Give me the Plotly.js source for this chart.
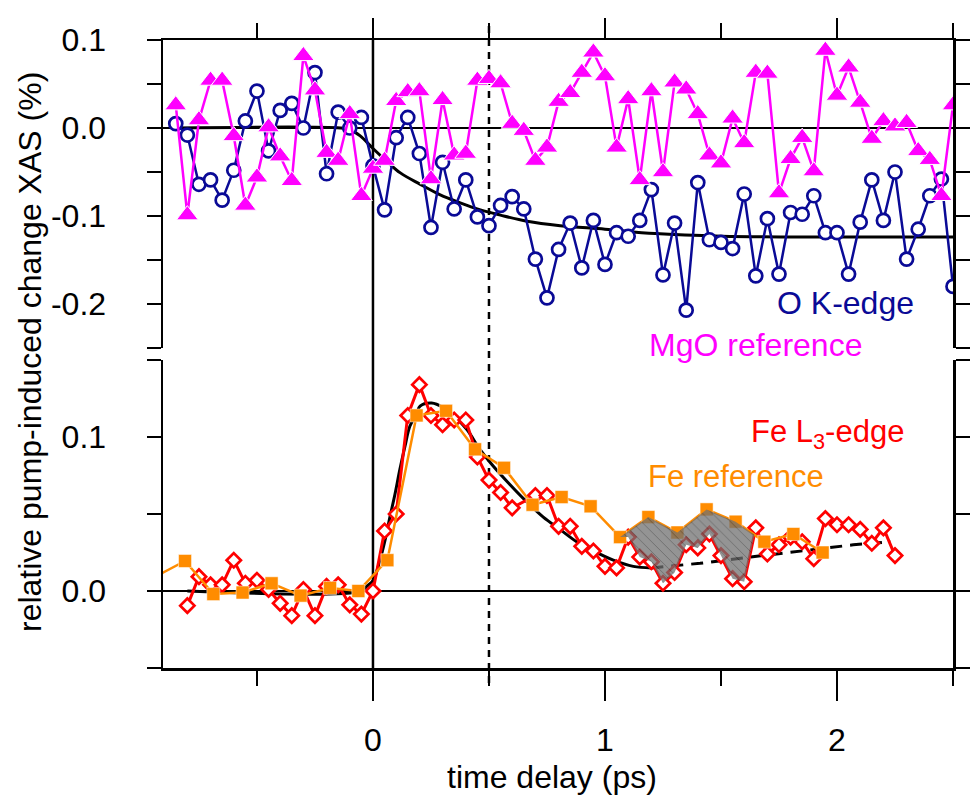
<!DOCTYPE html>
<html><head><meta charset="utf-8">
<script src="https://cdn.plot.ly/plotly-3.0.1.min.js"></script>
<style>html,body{margin:0;padding:0;background:#fff}</style>
</head><body>
<div id="chart" style="width:976px;height:796px"></div>
<script>
// ---------- data (top panel) ----------
const oKTime = [-0.85,-0.80,-0.75,-0.70,-0.65,-0.60,-0.55,-0.50,-0.45,-0.40,-0.35,-0.30,-0.25,-0.20,-0.15,-0.10,-0.05,0.00,
  0.05,0.10,0.15,0.20,0.25,0.30,0.35,0.40,0.45,0.50,0.55,0.60,0.65,0.70,0.75,0.80,0.85,0.90,0.95,1.00,
  1.05,1.10,1.15,1.20,1.25,1.30,1.35,1.40,1.45,1.50,1.55,1.60,1.65,1.70,1.75,1.80,1.85,1.90,1.95,2.00,
  2.05,2.10,2.15,2.20,2.25,2.30,2.35,2.40,2.45,2.50];
const oKEdge = [0.005,-0.008,-0.064,-0.059,-0.082,-0.048,0.008,0.042,-0.026,0.020,0.028,0.000,0.063,-0.052,0.018,0.000,0.012,-0.043,
  -0.093,-0.011,0.012,-0.029,-0.113,-0.039,-0.092,-0.059,-0.101,-0.111,-0.088,-0.078,-0.092,-0.149,-0.193,-0.138,-0.108,-0.159,-0.105,-0.155,
  -0.119,-0.123,-0.105,-0.070,-0.167,-0.108,-0.207,-0.062,-0.127,-0.130,-0.137,-0.075,-0.168,-0.103,-0.166,-0.096,-0.098,-0.077,-0.119,-0.119,
  -0.166,-0.107,-0.059,-0.105,-0.050,-0.149,-0.115,-0.077,-0.058,-0.180];
const mgoRef = [0.026,-0.099,0.009,0.054,0.054,-0.009,-0.088,-0.056,0.001,-0.032,-0.060,0.082,0.043,-0.028,-0.037,0.016,-0.077,-0.046,
  -0.037,0.031,0.041,0.042,-0.058,0.032,-0.031,-0.029,0.054,0.056,0.051,0.005,-0.003,-0.037,-0.022,0.030,0.040,0.063,0.086,0.059,
  -0.022,0.033,-0.059,0.042,-0.050,0.052,0.044,0.016,-0.031,-0.040,0.011,-0.017,0.063,0.062,-0.074,-0.035,-0.011,-0.049,0.088,0.037,
  0.069,0.029,-0.012,0.008,0.002,0.006,-0.026,-0.036,-0.077,0.026];
const fitTopTime  = [-0.85,-0.14,-0.098,-0.055,-0.001,0.060,0.118,0.204,0.290,0.376,0.463,0.549,0.664,0.807,1.00,1.216,1.503,1.934,2.50];
const fitTopValue = [0.000,0.000,-0.002,-0.009,-0.023,-0.038,-0.051,-0.064,-0.076,-0.085,-0.093,-0.099,-0.106,-0.111,-0.115,-0.120,-0.123,-0.124,-0.124];

// ---------- data (bottom panel) ----------
const feTime = [-0.80,-0.75,-0.70,-0.65,-0.60,-0.55,-0.50,-0.45,-0.40,-0.35,-0.30,-0.25,-0.20,-0.15,-0.10,-0.05,0.00,
  0.05,0.10,0.15,0.20,0.25,0.30,0.35,0.40,0.45,0.50,0.55,0.60,0.70,0.75,0.80,0.85,0.90,0.95,1.00,
  1.05,1.10,1.15,1.20,1.25,1.30,1.35,1.40,1.45,1.50,1.55,1.60,1.65,1.70,1.75,1.80,1.85,1.90,1.95,2.00,
  2.05,2.10,2.15,2.20,2.25];
const feL3Edge = [-0.0095,0.0093,0.004,0.004,0.020,0.005,0.007,0.001,-0.008,-0.016,0.001,-0.016,0.003,0.004,-0.009,-0.015,0.000,
  0.039,0.050,0.114,0.134,0.114,0.108,0.111,0.111,0.087,0.072,0.064,0.054,0.062,0.062,0.042,0.042,0.029,0.026,0.016,
  0.015,0.035,0.022,0.019,0.005,0.012,0.030,0.028,0.037,0.023,0.008,0.006,0.041,0.024,0.030,0.035,0.032,0.021,0.047,0.043,
  0.043,0.040,0.031,0.041,0.023];
const feRefTime = [-0.935,-0.81,-0.688,-0.562,-0.437,-0.312,-0.185,-0.063,0.062,0.188,0.315,0.440,0.565,0.688,0.813,0.938,
  1.065,1.187,1.312,1.438,1.563,1.687,1.812,1.938];
const feRef = [0.0096,0.0195,-0.002,-0.001,0.005,-0.003,0.002,0.000,0.020,0.114,0.117,0.092,0.080,0.056,0.061,0.055,
  0.035,0.048,0.038,0.053,0.045,0.032,0.037,0.025];
const fitBotTime  = [-0.80,-0.05,-0.027,0.001,0.030,0.052,0.073,0.095,0.116,0.138,0.159,0.188,0.203,0.253,0.303,0.353,0.404,
  0.461,0.519,0.591,0.662,0.734,0.806,0.878,0.950,1.036,1.122,1.20];
const fitBotValue = [0.000,0.000,0.003,0.007,0.020,0.033,0.048,0.063,0.079,0.094,0.107,0.115,0.120,0.122,0.119,0.113,0.105,
  0.092,0.081,0.069,0.058,0.048,0.040,0.032,0.026,0.020,0.016,0.015];
const fitDashTime  = [1.20,1.41,1.625,1.84,2.07,2.23];
const fitDashValue = [0.015,0.018,0.022,0.026,0.030,0.032];
const shadeRange = [1.06, 1.61];

// ---------- ticks / labels ----------
const xTickVals = [0, 1, 2];
const xTickText = ['0', '1', '2'];
const topTickVals = [-0.2, -0.1, 0.0, 0.1];
const topTickText = ['-0.2', '-0.1', '0.0', '0.1'];
const botTickVals = [0.0, 0.1];
const botTickText = ['0.0', '0.1'];

// ---------- styling ----------
const NAVY = '#0a0a96', MAG = '#ff00ff', RED = '#ff0000', ORG = '#ff8c00';
const FONT = 'Liberation Sans, Arial, sans-serif';
const FS = 32;
const W = 976, H = 796, ML = 163, MR = 23, MT = 40, MB = 128;
const PW = W - ML - MR, PH = H - MT - MB;
const px2x = p => (p - ML) / PW;
const py2y = p => (H - MB - p) / PH;

// shaded polygon built from the two data series
function interp(xs, ys, x) {
  for (let i = 0; i < xs.length - 1; i++) {
    if (x >= xs[i] && x <= xs[i + 1]) return ys[i] + (ys[i + 1] - ys[i]) * (x - xs[i]) / (xs[i + 1] - xs[i]);
  }
  return null;
}
const upX = [], upY = [], loX = [], loY = [];
feRefTime.forEach((t, i) => { if (t >= shadeRange[0] && t <= shadeRange[1]) { upX.push(t); upY.push(feRef[i]); } });
feTime.forEach((t, i) => { if (t >= shadeRange[0] + 0.03 && t <= shadeRange[1]) { loX.push(t); loY.push(feL3Edge[i]); } });
let cx = null, cy = null;
for (let x = loX[loX.length - 1]; x < 1.8; x += 0.001) {
  const a = interp(feRefTime, feRef, x), b = interp(feTime, feL3Edge, x);
  if (a !== null && b !== null && b >= a) { cx = x; cy = a; break; }
}
const polyX = upX.concat(cx !== null ? [cx] : [], loX.slice().reverse());
const polyY = upY.concat(cy !== null ? [cy] : [], loY.slice().reverse());

const traces = [
  { x: fitTopTime, y: fitTopValue, xaxis: 'x2', yaxis: 'y2', mode: 'lines', line: { color: 'black', width: 3, shape: 'spline' } },
  { x: oKTime, y: oKEdge, xaxis: 'x2', yaxis: 'y2', mode: 'lines+markers', line: { color: NAVY, width: 2.5 },
    marker: { symbol: 'circle', size: 13, color: 'white', line: { color: NAVY, width: 2.7 } } },
  { x: oKTime, y: mgoRef, xaxis: 'x2', yaxis: 'y2', mode: 'lines+markers', line: { color: MAG, width: 2.5 },
    marker: { symbol: 'triangle-up', size: 19, color: MAG, line: { color: 'white', width: 1 } } },

  { x: fitBotTime, y: fitBotValue, xaxis: 'x', yaxis: 'y', mode: 'lines', line: { color: 'black', width: 3, shape: 'spline' } },
  { x: fitDashTime, y: fitDashValue, xaxis: 'x', yaxis: 'y', mode: 'lines', line: { color: 'black', width: 3, dash: '12px,8px' } },
  { x: feTime, y: feL3Edge, xaxis: 'x', yaxis: 'y', mode: 'lines+markers', line: { color: RED, width: 3 },
    marker: { symbol: 'diamond', size: 11, color: 'white', line: { color: RED, width: 2.7 } } },
  { x: feRefTime, y: feRef, xaxis: 'x', yaxis: 'y', mode: 'lines+markers', line: { color: ORG, width: 2.5 },
    marker: { symbol: 'square', size: 13, color: ORG, line: { color: 'white', width: 0.5 } } },
  { x: polyX, y: polyY, xaxis: 'x', yaxis: 'y', mode: 'lines', fill: 'toself', opacity: 0.75,
    line: { width: 0, color: 'rgba(0,0,0,0)' }, fillcolor: '#6e6e6e',
    fillpattern: { shape: '\\', bgcolor: '#707070', fgcolor: '#3a3a3a', size: 7, solidity: 0.12 } }
];

const axBase = {
  showgrid: false, showline: true, linecolor: 'black', linewidth: 2.5,
  ticks: 'outside', tickcolor: 'black', tickwidth: 2.5,
  tickfont: { family: FONT, size: FS, color: 'black' }
};

const layout = {
  width: W, height: H, margin: { l: ML, r: MR, t: MT, b: MB },
  paper_bgcolor: 'white', plot_bgcolor: 'white', showlegend: false,
  xaxis: Object.assign({}, axBase, {
    range: [-0.905, 2.5], anchor: 'y', zeroline: false,
    tickmode: 'array', tickvals: xTickVals, ticktext: xTickText, ticklen: 30, ticklabelstandoff: 12,
    minor: { dtick: 0.5, tick0: 0, ticklen: 15, tickwidth: 2.5, tickcolor: 'black', ticks: 'outside' }
  }),
  xaxis2: Object.assign({}, axBase, {
    range: [-0.905, 2.5], anchor: 'y2', side: 'top', zeroline: false, showticklabels: false,
    tickmode: 'array', tickvals: xTickVals, ticklen: 20,
    minor: { dtick: 0.5, tick0: 0, ticklen: 15, tickwidth: 2.5, tickcolor: 'black', ticks: 'outside' }
  }),
  yaxis: Object.assign({}, axBase, {
    domain: [0, py2y(360)], range: [-0.05, 0.15], anchor: 'x', mirror: 'ticks',
    zeroline: true, zerolinecolor: 'black', zerolinewidth: 2.5,
    tickmode: 'array', tickvals: botTickVals, ticktext: botTickText, ticklen: 14, ticklabelstandoff: 34,
    minor: { dtick: 0.05, tick0: 0, ticklen: 14, tickwidth: 2.5, tickcolor: 'black', ticks: 'outside' }
  }),
  yaxis2: Object.assign({}, axBase, {
    domain: [py2y(348), 1], range: [-0.25, 0.1], anchor: 'x2', mirror: 'ticks',
    zeroline: true, zerolinecolor: 'black', zerolinewidth: 2.5,
    tickmode: 'array', tickvals: topTickVals, ticktext: topTickText, ticklen: 14, ticklabelstandoff: 34,
    minor: { dtick: 0.05, tick0: 0, ticklen: 14, tickwidth: 2.5, tickcolor: 'black', ticks: 'outside' }
  }),
  shapes: [
    { type: 'line', xref: 'x', yref: 'paper', x0: 0, x1: 0, y0: 0, y1: 1, line: { color: 'black', width: 2.5 }, layer: 'below' },
    { type: 'line', xref: 'x', yref: 'paper', x0: 0.5, x1: 0.5, y0: py2y(683), y1: py2y(25), line: { color: 'black', width: 2.5, dash: '7px,6px' }, layer: 'below' }
  ],
  annotations: [
    { text: 'time delay (ps)', xref: 'paper', yref: 'paper', x: px2x(552), y: py2y(777), showarrow: false,
      xanchor: 'center', yanchor: 'middle', font: { family: FONT, size: FS, color: 'black' } },
    { text: 'relative pump-induced change XAS (%)', xref: 'paper', yref: 'paper', x: px2x(30), y: py2y(352), showarrow: false,
      textangle: -90, xanchor: 'center', yanchor: 'middle', font: { family: FONT, size: FS, color: 'black' } },
    { text: 'O K-edge', xref: 'paper', yref: 'paper', x: px2x(845), y: py2y(303), showarrow: false,
      xanchor: 'center', yanchor: 'middle', font: { family: FONT, size: FS, color: NAVY } },
    { text: 'MgO reference', xref: 'paper', yref: 'paper', x: px2x(755), y: py2y(345), showarrow: false,
      xanchor: 'center', yanchor: 'middle', font: { family: FONT, size: FS, color: MAG } },
    { text: 'Fe L<sub>3</sub>-edge', xref: 'paper', yref: 'paper', x: px2x(827), y: py2y(434), showarrow: false,
      xanchor: 'center', yanchor: 'middle', font: { family: FONT, size: 31, color: RED } },
    { text: 'Fe reference', xref: 'paper', yref: 'paper', x: px2x(736), y: py2y(476), showarrow: false,
      xanchor: 'center', yanchor: 'middle', font: { family: FONT, size: 31, color: ORG } }
  ]
};

Plotly.newPlot('chart', traces, layout, { staticPlot: true, displayModeBar: false });
</script>
</body></html>
